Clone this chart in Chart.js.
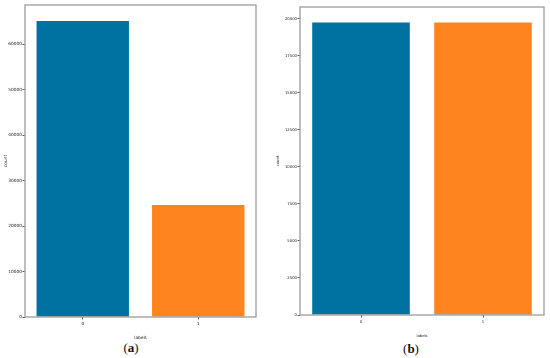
<!DOCTYPE html>
<html>
<head>
  <meta charset="UTF-8">
  <title>Label counts</title>
  <script src="https://cdn.jsdelivr.net/npm/chart.js"></script>
  <style>
    body {
      margin: 0;
      background: #fff;
      width: 550px;
      height: 358px;
      position: relative;
      overflow: hidden;
    }
    canvas {
      position: absolute;
      top: 0;
    }
    #chartA { left: 0; }
    #chartB { left: 275px; }
    .caption {
      position: absolute;
      font-family: "Liberation Serif", serif;
      font-size: 13px;
      color: #111;
      transform: translate(-50%, -50%);
    }
  </style>
</head>
<body>
  <canvas id="chartA" width="275" height="340"></canvas>
  <canvas id="chartB" width="275" height="340"></canvas>
  <div class="caption" style="left:131px; top:348px;">(<b>a</b>)</div>
  <div class="caption" style="left:411px; top:349px;">(<b>b</b>)</div>

  <script>
    // data
    const categories = ['0', '1'];
    const countsBefore = [65100, 24600];   // (a)
    const countsAfter = [19750, 19750];    // (b)
    const ticksBefore = [0, 10000, 20000, 30000, 40000, 50000, 60000];
    const ticksAfter = [0, 2500, 5000, 7500, 10000, 12500, 15000, 17500, 20000];
    const barColors = ['#0072a1', '#fd841f'];

    // frame around the plot area, like matplotlib spines
    const frame = {
      id: 'frame',
      afterDatasetsDraw(chart) {
        const a = chart.chartArea;
        const ctx = chart.ctx;
        ctx.save();
        ctx.strokeStyle = '#9c9c9c';
        ctx.lineWidth = 1.3;
        ctx.strokeRect(a.left, a.top, a.right - a.left, a.bottom - a.top);
        ctx.restore();
      }
    };

    const textColor = '#222';

    function makeChart(id, values, yTicks, yMax, pad, xHeight, fontSize, yTitlePad) {
      const tickFont = { family: 'DejaVu Sans', size: fontSize };
      return new Chart(document.getElementById(id), {
        type: 'bar',
        data: {
          labels: categories,
          datasets: [{
            data: values,
            backgroundColor: barColors,
            borderWidth: 0,
            barPercentage: 0.8,
            categoryPercentage: 1.0
          }]
        },
        options: {
          responsive: false,
          animation: false,
          layout: { padding: pad },
          plugins: {
            legend: { display: false },
            tooltip: { enabled: false }
          },
          scales: {
            x: {
              grid: {
                offset: false,
                drawOnChartArea: false,
                tickLength: 2.5,
                tickColor: '#333',
                tickWidth: 0.8
              },
              border: { display: false },
              ticks: { font: tickFont, color: textColor, padding: 2, maxRotation: 0 },
              title: {
                display: true,
                text: 'labels',
                font: tickFont,
                color: textColor,
                padding: { top: 5.4, bottom: 0 }
              },
              afterFit: s => { s.height = xHeight; }
            },
            y: {
              min: 0,
              max: yMax,
              grid: {
                drawOnChartArea: false,
                tickLength: 2.5,
                tickColor: '#333',
                tickWidth: 0.8
              },
              border: { display: false },
              ticks: {
                autoSkip: false,
                font: tickFont,
                color: textColor,
                padding: 0.5,
                callback: v => String(v)
              },
              afterBuildTicks: s => {
                s.ticks = yTicks.map(v => ({ value: v }));
              },
              title: {
                display: true,
                text: 'count',
                font: tickFont,
                color: textColor,
                padding: { top: yTitlePad, bottom: 0 }
              },
              afterFit: s => { s.width = 25; }
            }
          }
        },
        plugins: [frame]
      });
    }

    makeChart('chartA', countsBefore, ticksBefore, 68600,
      { left: 0, top: 5, right: 19, bottom: 0 }, 23, 4.3, 3.2);
    makeChart('chartB', countsAfter, ticksAfter, 20800,
      { left: 0, top: 7, right: 6, bottom: 2 }, 23, 3.8, 1);
  </script>
</body>
</html>
